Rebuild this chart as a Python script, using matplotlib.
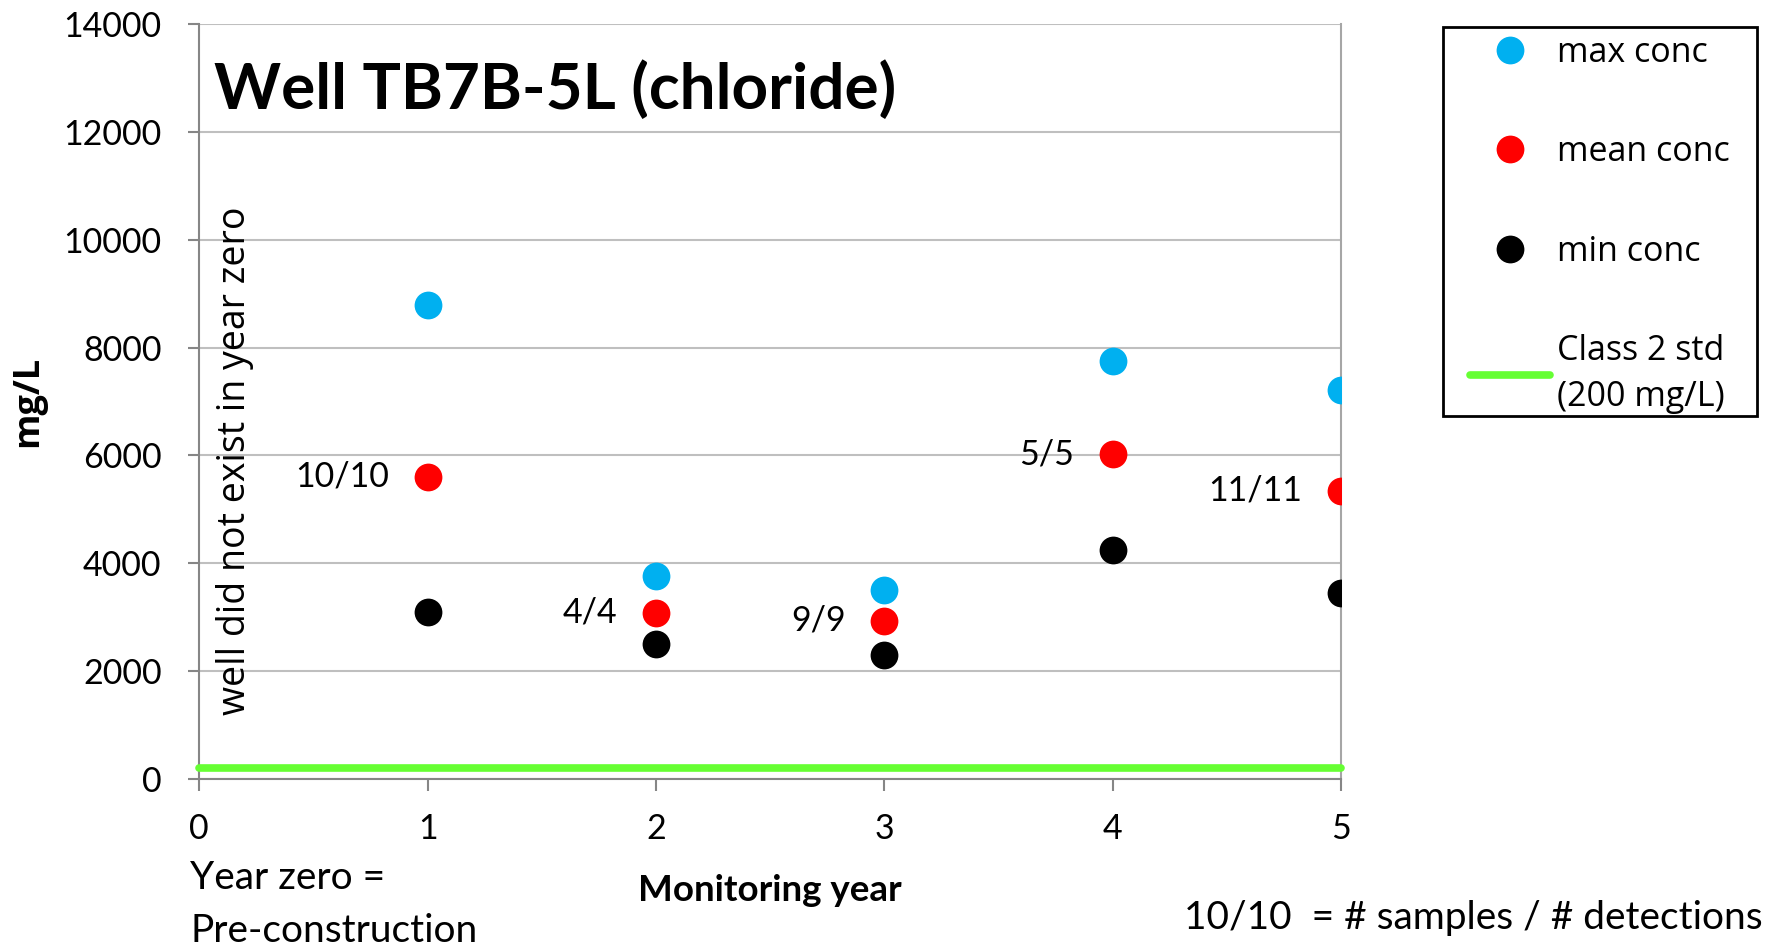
import matplotlib
matplotlib.use("Agg")
import matplotlib.pyplot as plt
from matplotlib.patches import Rectangle

# chloride results per monitoring year (mg/L)
years = [1, 2, 3, 4, 5]
max_conc = [8780, 3760, 3500, 7750, 7220]
mean_conc = [5600, 3080, 2930, 6020, 5340]
min_conc = [3100, 2510, 2300, 4240, 3440]
sample_labels = ["10/10", "4/4", "9/9", "5/5", "11/11"]

std_years = [0, 5]
std_value = [200, 200]

yticks = [0, 2000, 4000, 6000, 8000, 10000, 12000, 14000]
xticks = [0, 1, 2, 3, 4, 5]

MAIN_FONT = "Lato"
SIDE_FONT = "Open Sans"

fig = plt.figure(figsize=(17.86, 9.48), dpi=100)
ax = fig.add_axes([0.1115, 0.1783, 0.6394, 0.7964])

ax.plot(std_years, std_value, color="#66FF33", lw=5.5, solid_capstyle="round",
        label="Class 2 std\n(200 mg/L)", zorder=3, clip_on=False)
ax.plot(years, max_conc, "o", color="#00B0F0", ms=20, mec="none", label="max conc", zorder=4)
ax.plot(years, mean_conc, "o", color="#FF0000", ms=20, mec="none", label="mean conc", zorder=4)
ax.plot(years, min_conc, "o", color="#000000", ms=20, mec="none", label="min conc", zorder=4)

for x, y, s in zip(years, mean_conc, sample_labels):
    ax.annotate(s, (x, y), xytext=(-28, 0), textcoords="offset points",
                ha="right", va="center", fontsize=24.5, family=MAIN_FONT)

ax.set_xlim(0, 5)
ax.set_ylim(0, 14000)
ax.set_xticks(xticks)
ax.set_yticks(yticks)
ax.set_xticklabels([str(t) for t in xticks], fontsize=24.5, family=MAIN_FONT)
ax.set_yticklabels([str(t) for t in yticks], fontsize=24.5, family=MAIN_FONT)
ax.tick_params(axis="x", direction="out", length=8.5, width=1.5, color="#868686", pad=16)
ax.tick_params(axis="y", direction="out", length=8, width=1.5, color="#868686", pad=19)

ax.yaxis.grid(True, color="#BFBFBF", lw=1.5)
ax.set_axisbelow(True)
for side in ["left", "bottom"]:
    ax.spines[side].set_color("#868686")
    ax.spines[side].set_linewidth(1.5)
ax.spines["right"].set_color("#A6A6A6")
ax.spines["right"].set_linewidth(1.5)
ax.spines["top"].set_visible(False)

ax.set_xlabel("Monitoring year", fontsize=26.5, fontweight="bold", family=MAIN_FONT)
ax.xaxis.set_label_coords(0.5, -0.148)
ax.xaxis.label.set_va("center")
ax.set_ylabel("mg/L", fontsize=26, fontweight="bold", family=SIDE_FONT)
ax.yaxis.set_label_coords(-0.15, 0.5)
ax.yaxis.label.set_va("center")

ax.text(0.0131, 0.887, "Well TB7B-5L (chloride)", transform=ax.transAxes,
        fontsize=46, fontweight="bold", family=MAIN_FONT, va="baseline", ha="left")
ax.text(0.155, 5900, "well did not exist in year zero", rotation=90,
        fontsize=27, family=SIDE_FONT, ha="center", va="center")

fig.text(0.1064, 0.0735, "Year zero =", fontsize=28, family=MAIN_FONT, va="center")
fig.text(0.1064, 0.0180, "Pre-construction", fontsize=28, family=MAIN_FONT, va="center")
fig.text(0.987, 0.0315, "10/10  = # samples / # detections", fontsize=28,
         family=MAIN_FONT, ha="right", va="center")

# legend: entries in the order max, mean, min, standard
handles, labels = ax.get_legend_handles_labels()
order = [1, 2, 3, 0]
leg = ax.legend([handles[i] for i in order], [labels[i] for i in order],
                loc="upper left", bbox_to_anchor=(0.823, 0.962),
                bbox_transform=fig.transFigure, frameon=False,
                borderpad=0, borderaxespad=0, handlelength=2.35,
                handletextpad=0.2, labelspacing=1.92,
                prop={"family": SIDE_FONT, "size": 24.5})
for t in leg.get_texts():
    t.set_linespacing(1.45)
fig.add_artist(Rectangle((0.808, 0.5612), 0.1758, 0.4103, transform=fig.transFigure,
                         fill=False, edgecolor="black", lw=2))

fig.savefig("out.png", dpi=100)
